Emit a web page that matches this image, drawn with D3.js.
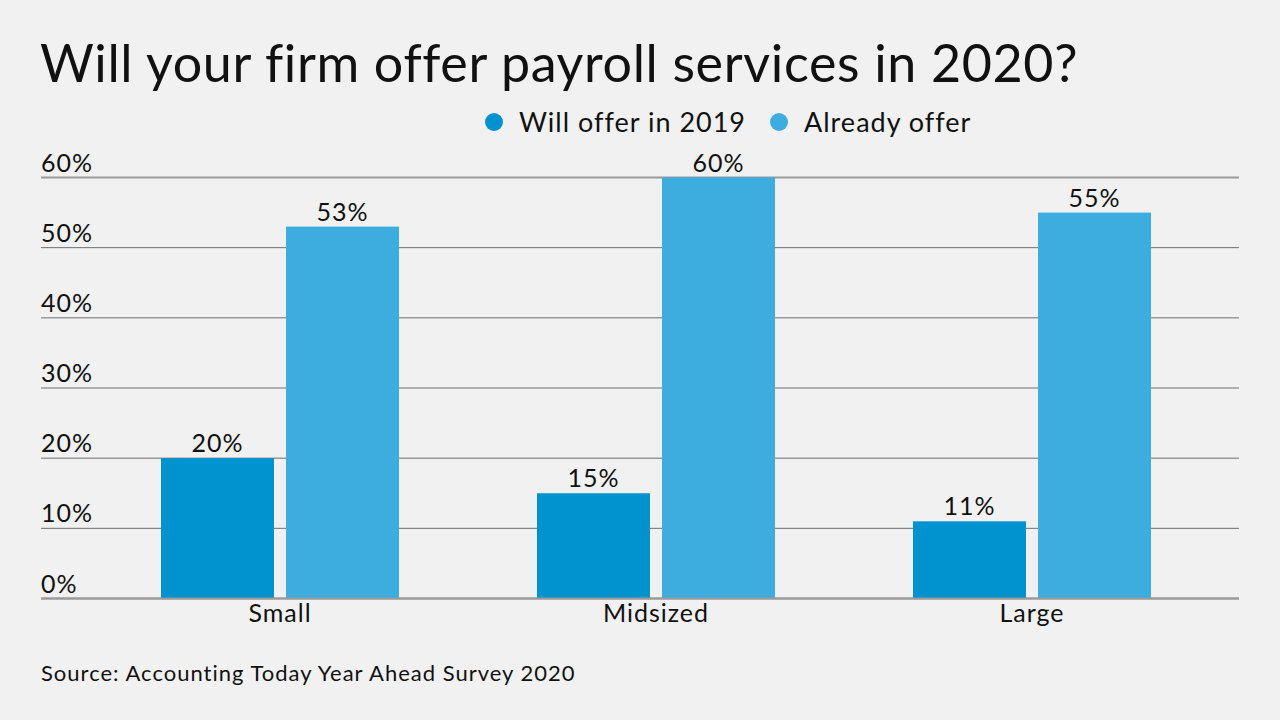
<!DOCTYPE html>
<meta charset="utf-8">
<script src="https://d3js.org/d3.v7.min.js"></script>
<style>
  body { margin: 0; background: #f0f1f0; }
  text { font-family: Lato, "Noto Sans", sans-serif; fill: #111; letter-spacing: 1px; }
</style>
<div id="chart"></div>
<script>
// data
const categories = ["Small", "Midsized", "Large"];
const seriesNames = ["Will offer in 2019", "Already offer"];
const willOffer = [20, 15, 11];
const alreadyOffer = [53, 60, 55];
const yTicks = [0, 10, 20, 30, 40, 50, 60];
const colors = ["#0093d0", "#3dacdf"];

const W = 1280, H = 720;
const svg = d3.select("#chart").append("svg")
    .attr("width", W)
    .attr("height", H);

svg.append("rect").attr("width", W).attr("height", H).attr("fill", "#f0f1f0");

// title
svg.append("text")
    .attr("x", 40).attr("y", 82)
    .style("font-size", "52px")
    .style("letter-spacing", "0.65px")
    .text("Will your firm offer payroll services in 2020?");

// scales
const x0 = d3.scaleBand()
    .domain(categories)
    .range([92, 1220])
    .paddingInner(0.367)
    .paddingOuter(0.1835);

const x1 = d3.scaleBand()
    .domain(seriesNames)
    .range([0, x0.bandwidth()])
    .paddingInner(0.096);

const y = d3.scaleLinear()
    .domain([0, 60])
    .range([598.5, 177.5]);

// grid lines
svg.append("g")
  .selectAll("line")
  .data(yTicks)
  .join("line")
    .attr("x1", 41).attr("x2", 1239)
    .attr("y1", d => y(d)).attr("y2", d => y(d))
    .attr("stroke", d => (d === 0 || d === 60) ? "#9a9a9a" : "#6e6e6e")
    .attr("stroke-width", d => (d === 0 || d === 60) ? 2 : 1);

// y labels
svg.append("g")
  .selectAll("text")
  .data(yTicks)
  .join("text")
    .attr("x", 41)
    .attr("y", d => y(d) - 6)
    .style("font-size", "25px")
    .text(d => d + "%");

// bars
const rows = categories.map((c, i) => ({
  cat: c,
  vals: [
    {s: seriesNames[0], v: willOffer[i], c: colors[0]},
    {s: seriesNames[1], v: alreadyOffer[i], c: colors[1]}
  ]
}));

const groups = svg.append("g")
  .selectAll("g")
  .data(rows)
  .join("g")
    .attr("transform", d => `translate(${x0(d.cat)},0)`);

groups.selectAll("rect")
  .data(d => d.vals)
  .join("rect")
    .attr("x", d => x1(d.s))
    .attr("width", x1.bandwidth())
    .attr("y", d => y(d.v))
    .attr("height", d => y(0) - y(d.v))
    .attr("fill", d => d.c);

groups.selectAll("text.val")
  .data(d => d.vals)
  .join("text")
    .attr("class", "val")
    .attr("x", d => x1(d.s) + x1.bandwidth() / 2)
    .attr("y", d => y(d.v) - 6)
    .attr("text-anchor", "middle")
    .style("font-size", "25px")
    .text(d => d.v + "%");

// redraw baseline over bars
svg.append("line")
    .attr("x1", 41).attr("x2", 1239)
    .attr("y1", y(0)).attr("y2", y(0))
    .attr("stroke", "#9a9a9a")
    .attr("stroke-width", 2);

// category labels
svg.append("g")
  .selectAll("text")
  .data(categories)
  .join("text")
    .attr("x", d => x0(d) + x0.bandwidth() / 2)
    .attr("y", 622)
    .attr("text-anchor", "middle")
    .style("font-size", "25px")
    .text(d => d);

// legend
const legendX = [494, 779];
const legend = svg.append("g")
  .selectAll("g")
  .data(seriesNames)
  .join("g")
    .attr("transform", (d, i) => `translate(${legendX[i]},122)`);
legend.append("circle")
    .attr("r", 9)
    .attr("fill", (d, i) => colors[i]);
legend.append("text")
    .attr("x", 25)
    .attr("y", 10)
    .style("font-size", "27px")
    .text(d => d);

// source
svg.append("text")
    .attr("x", 41).attr("y", 681)
    .style("font-size", "22px")
    .text("Source: Accounting Today Year Ahead Survey 2020");
</script>
